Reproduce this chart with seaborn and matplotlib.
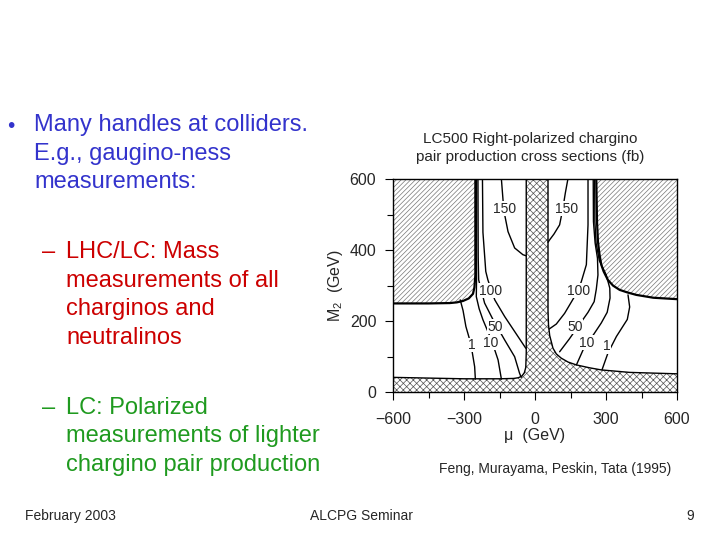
import matplotlib
matplotlib.use("Agg")
import matplotlib.pyplot as plt
import seaborn as sns
import pandas as pd

# ---- excluded regions (mu, M2 in GeV) ----
# crosshatched: LEP band along the bottom plus the central column
band_mu = [-600, -450, -300, -150, -90, -70, -55, -45, -39, -37, -37,
           55, 55, 57, 62, 76, 90, 111, 140, 175, 230, 280, 400, 600, 600, -600]
band_m2 = [42, 40, 38, 38, 39, 41, 46, 55, 70, 110, 600,
           600, 230, 190, 160, 124, 108, 96, 85, 77, 69, 63, 56, 52, 0, 0]

# single hatched: upper-left and upper-right corners
left_mu = [-600, -252, -252, -256, -262, -280, -304, -330, -360, -450, -600]
left_m2 = [600, 600, 330, 295, 277, 264, 257, 253, 251, 250, 250]
right_mu = [600, 600, 500, 428, 390, 358, 330, 308, 290, 280, 272, 266, 262, 259]
right_m2 = [600, 262, 266, 274, 281, 288, 300, 316, 340, 359, 390, 424, 480, 600]

# ---- cross section contours (fb) ----
c1_left_mu = [-316, -304, -292, -279, -269, -262, -255, -252]
c1_left_m2 = [260, 230, 185, 155, 128, 100, 72, 37]
c10_left_mu = [-247, -247, -248, -236, -220, -184, -156, -142]
c10_left_m2 = [600, 320, 269, 235, 204, 147, 91, 37]
c50_left_mu = [-241, -240, -238, -213, -177, -128, -86, -65, -58]
c50_left_m2 = [600, 380, 316, 251, 204, 147, 100, 53, 42]
c100_left_mu = [-222, -220, -208, -199, -170, -128, -72, -39]
c100_left_m2 = [600, 450, 340, 316, 260, 213, 157, 124]
c150_left_mu = [-142, -135, -128, -114, -86, -51, -37]
c150_left_m2 = [600, 540, 499, 452, 406, 387, 384]

c1_right_mu = [393, 400, 390, 344, 308, 283]
c1_right_m2 = [274, 240, 205, 157, 110, 63]
c10_right_mu = [252, 253, 258, 272, 301, 316, 317, 305, 280, 250, 203, 175]
c10_right_m2 = [600, 480, 420, 370, 330, 293, 265, 225, 195, 165, 119, 77]
c50_right_mu = [246, 247, 254, 264, 266, 259, 250, 224, 185, 145, 104]
c50_right_m2 = [600, 480, 420, 377, 330, 290, 255, 225, 188, 150, 114]
c100_right_mu = [224, 224, 217, 196, 182, 150, 125, 90, 60]
c100_right_m2 = [600, 471, 359, 312, 286, 250, 222, 192, 178]
c150_right_mu = [139, 128, 118, 104, 80, 62, 55]
c150_right_m2 = [600, 560, 518, 471, 445, 429, 422]

label_text = ["150", "150", "100", "100", "50", "50", "10", "10", "1", "1"]
label_mu = [-128, 132, -189, 182, -170, 168, -189, 217, -269, 304]
label_m2 = [517, 517, 286, 286, 185, 185, 140, 140, 133, 130]

x_ticks = [-600, -300, 0, 300, 600]
y_ticks = [0, 200, 400, 600]

sns.set_theme(style="white")
plt.rcParams["font.family"] = ["Liberation Sans", "DejaVu Sans"]
plt.rcParams["hatch.linewidth"] = 0.5
plt.rcParams["mathtext.fontset"] = "custom"
plt.rcParams["mathtext.rm"] = "Liberation Sans"

fig = plt.figure(figsize=(7.2, 5.4), dpi=100)
fig.patch.set_facecolor("white")

ax = fig.add_axes([393 / 720, 147.7 / 540, 284 / 720, 213.3 / 540])

ax.fill(band_mu, band_m2, facecolor="white", edgecolor="#555555",
        hatch="xxxxx", linewidth=0)
ax.fill(left_mu, left_m2, facecolor="white", edgecolor="#777777",
        hatch="///////", linewidth=0)
ax.fill(right_mu, right_m2, facecolor="white", edgecolor="#777777",
        hatch="///////", linewidth=0)

# outlines of the excluded regions
ax.plot(band_mu[:-2], band_m2[:-2], color="black", lw=1.0)
ax.plot(left_mu[1:], left_m2[1:], color="black", lw=1.6)
ax.plot(right_mu[1:], right_m2[1:], color="black", lw=1.6)

contours = [
    (c1_left_mu, c1_left_m2), (c10_left_mu, c10_left_m2),
    (c50_left_mu, c50_left_m2), (c100_left_mu, c100_left_m2),
    (c150_left_mu, c150_left_m2),
    (c1_right_mu, c1_right_m2), (c10_right_mu, c10_right_m2),
    (c50_right_mu, c50_right_m2), (c100_right_mu, c100_right_m2),
    (c150_right_mu, c150_right_m2),
]
for mu, m2 in contours:
    d = pd.DataFrame({"mu": mu, "m2": m2})
    sns.lineplot(data=d, x="mu", y="m2", sort=False, estimator=None,
                 color="black", lw=1.0, ax=ax)

for t, x, y in zip(label_text, label_mu, label_m2):
    ax.text(x, y, t, ha="center", va="center", fontsize=10,
            bbox=dict(facecolor="white", edgecolor="none", pad=0.3))

ax.set_xlim(-600, 600)
ax.set_ylim(0, 600)
ax.set_xticks(x_ticks)
ax.set_yticks(y_ticks)
ax.set_xticks([-450, -150, 150, 450], minor=True)
ax.set_yticks([100, 300, 500], minor=True)
ax.tick_params(which="both", direction="out", color="black", labelsize=11.5,
               bottom=True, left=True)
ax.tick_params(which="major", length=6, width=0.8)
ax.tick_params(which="minor", length=4, width=0.8)
ax.tick_params(axis="x", pad=8)
ax.tick_params(axis="y", pad=6)
ax.set_xlabel("μ  (GeV)", fontsize=11.5, labelpad=1)
ax.set_ylabel(r"M$_\mathregular{2}$  (GeV)", fontsize=11.5, labelpad=3)
for s in ax.spines.values():
    s.set_color("black")
    s.set_linewidth(1.0)

# ---- slide text ----
def put(x, y, s, **kw):
    fig.text(x / 720, 1 - y / 540, s, va="center", **kw)

blue = "#3333cc"
red = "#cc0000"
green = "#1f9a1f"
fs = 17
put(7, 126, "•", color=blue, fontsize=15)
put(34, 125, "Many handles at colliders.", color=blue, fontsize=fs)
put(34, 154, "E.g., gaugino-ness", color=blue, fontsize=fs)
put(34, 182, "measurements:", color=blue, fontsize=fs)

put(42, 252, "–", color=red, fontsize=fs)
put(66, 252, "LHC/LC: Mass", color=red, fontsize=fs)
put(66, 281, "measurements of all", color=red, fontsize=fs)
put(66, 309, "charginos and", color=red, fontsize=fs)
put(66, 338, "neutralinos", color=red, fontsize=fs)

put(42, 408, "–", color=green, fontsize=fs)
put(66, 408, "LC: Polarized", color=green, fontsize=fs)
put(66, 436, "measurements of lighter", color=green, fontsize=fs)
put(66, 465, "chargino pair production", color=green, fontsize=fs)

put(530, 139, "LC500 Right-polarized chargino", ha="center", fontsize=11)
put(530, 157, "pair production cross sections (fb)", ha="center", fontsize=11)
put(555, 469, "Feng, Murayama, Peskin, Tata (1995)", ha="center", fontsize=10)

put(25, 516, "February 2003", fontsize=10)
put(362, 516, "ALCPG Seminar", ha="center", fontsize=10)
put(694, 516, "9", ha="right", fontsize=10)

fig.savefig("out.png", dpi=100, facecolor="white")
